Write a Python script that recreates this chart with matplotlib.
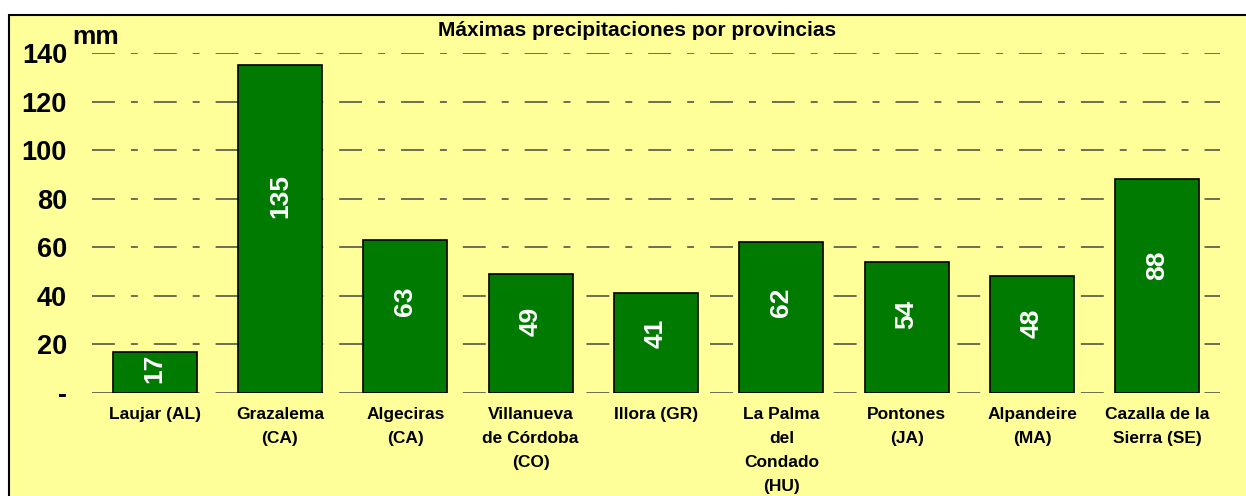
import numpy as np
import matplotlib.pyplot as plt
from matplotlib.patches import Rectangle

plt.rcParams['font.family'] = ['Liberation Sans', 'DejaVu Sans']
plt.rcParams['lines.scale_dashes'] = False

estaciones = ["Laujar (AL)", "Grazalema\n(CA)", "Algeciras\n(CA)", "Villanueva\nde Córdoba\n(CO)",
              "Illora (GR)", "La Palma\ndel\nCondado\n(HU)", "Pontones\n(JA)", "Alpandeire\n(MA)",
              "Cazalla de la\nSierra (SE)"]
lluvia_mm = [17, 135, 63, 49, 41, 62, 54, 48, 88]
yticks = [0, 20, 40, 60, 80, 100, 120, 140]
yticklabels = ["-", "20", "40", "60", "80", "100", "120", "140"]

fig = plt.figure(figsize=(12.46, 4.96), dpi=100)
fig.patch.set_facecolor("white")
# yellow chart area box
fig.patches.append(Rectangle((9 / 1246, -0.1), 1.2, 1 - 15 / 496 + 0.1, transform=fig.transFigure,
                             facecolor="#FFFF99", edgecolor="black", linewidth=1.5, zorder=-5))

ax = fig.add_axes([92 / 1246, 1 - 393 / 496, (1220 - 92) / 1246, (393 - 53) / 496])
ax.set_facecolor("none")

x = np.arange(len(estaciones))
ax.bar(x, lluvia_mm, width=0.67, color="#007A00", edgecolor="black", linewidth=1.2, zorder=3)

for xi, v in zip(x, lluvia_mm):
    ax.text(xi, v * 0.6, str(v), rotation=90, ha="center", va="center",
            color="white", fontsize=19, fontweight="bold", zorder=4)

ax.set_xlim(-0.5, len(estaciones) - 0.5)
ax.set_ylim(0, 140)
ax.set_yticks(yticks)
ax.set_yticklabels(yticklabels, fontsize=19.5, fontweight="bold")
ax.set_xticks(x)
ax.set_xticklabels(estaciones, fontsize=12.5, fontweight="bold", linespacing=1.75, va="top")
ax.tick_params(axis="y", length=0, pad=18)
ax.tick_params(axis="x", length=0, pad=10)
for s in ax.spines.values():
    s.set_visible(False)

ax.yaxis.grid(True, color="#555548", linewidth=1.2, dashes=(16.5, 11.5, 5, 11.5), zorder=1)
ax.set_axisbelow(True)

fig.text(637 / 1246, 1 - 31 / 496, "Máximas precipitaciones por provincias", ha="center", va="center",
         fontsize=15, fontweight="bold")
fig.text(72 / 1246, 1 - 37 / 496, "mm", ha="left", va="center", fontsize=19, fontweight="bold")

fig.savefig("out.png", dpi=100)
